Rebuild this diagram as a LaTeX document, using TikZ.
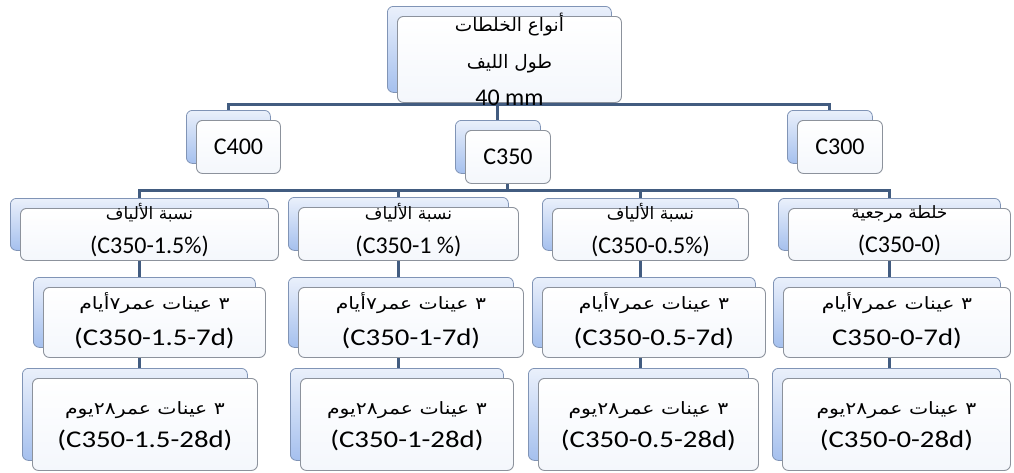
\documentclass[tikz,border=0pt]{standalone}
\usepackage{fontspec}
\usepackage{graphicx}
\setmainfont{Carlito}
\newfontfamily\arabicfont[Script=Arabic]{DejaVu Sans}
\TeXXeTstate=1
\newcommand{\artxt}[1]{{\arabicfont\fontsize{17}{20}\selectfont\beginR #1\endR}}
\newcommand{\artop}[1]{{\arabicfont\fontsize{18.5}{20}\selectfont\beginR #1\endR}}
\newcommand{\widetxt}[1]{\scalebox{1.2}[1]{#1}}
\definecolor{conncol}{RGB}{66,92,128}
\definecolor{backtop}{RGB}{234,240,251}
\definecolor{backbot}{RGB}{165,192,238}
\definecolor{backborder}{RGB}{128,148,182}
\definecolor{frontborder}{RGB}{140,146,156}
\definecolor{frontbot}{RGB}{244,247,252}
\pgfdeclarelayer{bg}
\pgfsetlayers{bg,main}
\tikzset{
  backbox/.style={rounded corners=6pt, draw=backborder, line width=0.8pt,
    top color=backtop, bottom color=backbot, anchor=north west, inner sep=0pt},
  frontbox/.style={rounded corners=6pt, draw=frontborder, line width=0.9pt,
    top color=white, bottom color=frontbot, anchor=north west, inner sep=0pt},
  txt/.style={inner sep=0pt, align=center, font=\fontsize{24}{34}\selectfont},
  conn/.style={draw=conncol, line width=3pt},
}
% name, x, y, w, h
\newcommand{\stackbox}[5]{%
  \node[backbox, minimum width=#4pt, minimum height=#5pt] (#1) at (#2,#3) {};
  \node[frontbox, minimum width=#4pt, minimum height=#5pt] (#1f) at (#2+10,#3+10) {};
}
\begin{document}
\begin{tikzpicture}[x=1pt,y=-1pt]
\useasboundingbox (0,0) rectangle (1014,472);
% boxes
\stackbox{top}{387}{6}{224}{86}
\stackbox{cfour}{186}{110}{84}{53}
\stackbox{cthreefive}{455}{120}{85}{53}
\stackbox{cthree}{787}{110}{85}{53}
\stackbox{ra}{10}{198}{258}{52}
\stackbox{rb}{288}{197}{220}{53}
\stackbox{rc}{542}{198}{196}{52}
\stackbox{rd}{778}{198}{222}{52}
\stackbox{sa}{33}{277}{222}{70}
\stackbox{sb}{288}{277}{225}{70}
\stackbox{sc}{532}{277}{223}{70}
\stackbox{sd}{773}{277}{227}{70}
\stackbox{ta}{22}{368}{225}{92}
\stackbox{tb}{290}{368}{213}{92}
\stackbox{tc}{528}{368}{220}{92}
\stackbox{td}{772}{368}{228}{92}
% texts
\node[txt, font=\fontsize{24}{37}\selectfont] (toptxt) at (topf.center) {\artop{أنواع الخلطات}\\\artop{طول الليف}\\40 mm};
\node[txt] (cfourtxt) at (cfourf.center) {C400};
\node[txt] (cthreefivetxt) at (cthreefivef.center) {C350};
\node[txt] (cthreetxt) at (cthreef.center) {C300};
\node[txt] (ratxt) at ([yshift=4pt]raf.center) {\artxt{نسبة الألياف}\\(C350-1.5\%)};
\node[txt] (rbtxt) at ([yshift=4pt]rbf.center) {\artxt{نسبة الألياف}\\(C350-1 \%)};
\node[txt] (rctxt) at ([yshift=4pt]rcf.center) {\artxt{نسبة الألياف}\\(C350-0.5\%)};
\node[txt] (rdtxt) at ([yshift=4pt]rdf.center) {\artxt{خلطة مرجعية}\\(C350-0)};
\node[txt, font=\fontsize{24}{36}\selectfont] (satxt) at ([yshift=2pt]saf.center) {\widetxt{\artxt{٣ عينات عمر٧أيام}}\\\widetxt{(C350-1.5-7d)}};
\node[txt, font=\fontsize{24}{36}\selectfont] (sbtxt) at ([yshift=2pt]sbf.center) {\widetxt{\artxt{٣ عينات عمر٧أيام}}\\\widetxt{(C350-1-7d)}};
\node[txt, font=\fontsize{24}{36}\selectfont] (sctxt) at ([yshift=2pt]scf.center) {\widetxt{\artxt{٣ عينات عمر٧أيام}}\\\widetxt{(C350-0.5-7d)}};
\node[txt, font=\fontsize{24}{36}\selectfont] (sdtxt) at ([yshift=2pt]sdf.center) {\widetxt{\artxt{٣ عينات عمر٧أيام}}\\\widetxt{C350-0-7d)}};
\node[txt, font=\fontsize{24}{33}\selectfont] (tatxt) at ([yshift=-2pt]taf.center) {\widetxt{\artxt{٣ عينات عمر٢٨يوم}}\\\widetxt{(C350-1.5-28d)}};
\node[txt, font=\fontsize{24}{33}\selectfont] (tbtxt) at ([yshift=-2pt]tbf.center) {\widetxt{\artxt{٣ عينات عمر٢٨يوم}}\\\widetxt{(C350-1-28d)}};
\node[txt, font=\fontsize{24}{33}\selectfont] (tctxt) at ([yshift=-2pt]tcf.center) {\widetxt{\artxt{٣ عينات عمر٢٨يوم}}\\\widetxt{(C350-0.5-28d)}};
\node[txt, font=\fontsize{24}{33}\selectfont] (tdtxt) at ([yshift=-2pt]tdf.center) {\widetxt{\artxt{٣ عينات عمر٢٨يوم}}\\\widetxt{(C350-0-28d)}};
% connectors
\begin{pgfonlayer}{bg}
\coordinate (jone) at (top.south |- 0,104);
\draw[conn] (cfour.north) |- (jone) -| (cthree.north);
\draw[conn] (jone) -- (jone -| cthreefive.north) -- (cthreefive.north);
\coordinate (jtwo) at ([yshift=-7pt]cthreefivef.south);
\draw[conn] (cthreefivef.south) -- (jtwo);
\draw[conn] (ra.north) |- (jtwo) -| (rd.north);
\draw[conn] (rb.north) -- (rb.north |- jtwo);
\draw[conn] (rc.north) -- (rc.north |- jtwo);
\draw[conn] (ra.south) -- (ra.south |- sa.north);
\draw[conn] (rb.south) -- (rb.south |- sb.north);
\draw[conn] (rc.south) -- (rc.south |- sc.north);
\draw[conn] (rd.south) -- (rd.south |- sd.north);
\draw[conn] (ra.south |- sa.south) -- (ra.south |- ta.north);
\draw[conn] (rb.south |- sb.south) -- (rb.south |- tb.north);
\draw[conn] (rc.south |- sc.south) -- (rc.south |- tc.north);
\draw[conn] (rd.south |- sd.south) -- (rd.south |- td.north);
\end{pgfonlayer}
\end{tikzpicture}
\end{document}
